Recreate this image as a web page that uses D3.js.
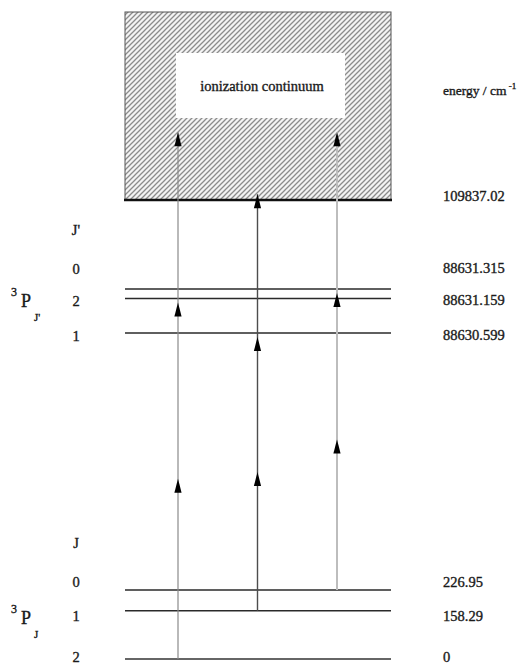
<!DOCTYPE html>
<html>
<head>
<meta charset="utf-8">
<script src="https://cdn.jsdelivr.net/npm/d3@7"></script>
<style>
  html, body { margin: 0; padding: 0; background: #fff; }
  svg { display: block; }
</style>
</head>
<body>
<svg id="chart" width="526" height="665"></svg>
<script>
// Ground-state fine-structure levels 3P_J (energy in cm^-1)
const lowerJ = ["2", "1", "0"];
const lowerEnergy = [0, 158.29, 226.95];
const lowerLabels = ["0", "158.29", "226.95"];

// Excited 3P_J' levels
const upperJ = ["1", "2", "0"];
const upperEnergy = [88630.599, 88631.159, 88631.315];
const upperLabels = ["88630.599", "88631.159", "88631.315"];

// Ionization limit
const ionLimit = 109837.02;
const ionLabel = "109837.02";

// Excitation paths: lower J index -> upper J' index -> energy reached in the continuum
const pathFrom = [0, 1, 2];
const pathVia = [1, 0, 2];
const pathReach = [113500, 110150, 113500];

const FONT = "'Liberation Serif', 'Times New Roman', 'DejaVu Serif', serif";
const svg = d3.select("#chart")
  .style("font-family", FONT);

// Broken energy axis: each region of the diagram has its own linear stretch
const continuumTop = 120000;
const y = d3.scaleLinear()
  .domain([0, 226.95, 88630.599, 88631.315, ionLimit, continuumTop])
  .range([659, 590, 333, 289, 200, 12]);

const x0 = 125, x1 = 391;           // extent of level lines and continuum box
const pathX = d3.scalePoint().domain(d3.range(pathFrom.length)).range([178, 337]);

function label(sel) {
  return sel.attr("font-family", FONT).attr("fill", "#1a1a1a")
    .attr("stroke", "#1a1a1a").attr("stroke-width", 0.35);
}

// Hatch pattern for the continuum
const defs = svg.append("defs");
const pat = defs.append("pattern")
  .attr("id", "hatch").attr("patternUnits", "userSpaceOnUse")
  .attr("width", 5).attr("height", 5);
pat.append("rect").attr("width", 5).attr("height", 5).attr("fill", "#f4f4f4");
pat.append("path")
  .attr("d", "M-1,1 l2,-2 M0,5 l5,-5 M4,6 l2,-2")
  .attr("stroke", "#8c8c8c").attr("stroke-width", 1.3);

// Continuum box
svg.append("rect")
  .attr("x", x0).attr("y", y(continuumTop))
  .attr("width", x1 - x0).attr("height", y(ionLimit) - y(continuumTop))
  .attr("fill", "url(#hatch)").attr("stroke", "#555").attr("stroke-width", 1);

svg.append("rect")
  .attr("x", 176).attr("y", 53).attr("width", 169).attr("height", 65)
  .attr("fill", "#fff");
svg.append("text").call(label)
  .attr("x", 262).attr("y", 91).attr("text-anchor", "middle")
  .attr("font-size", 14.5).text("ionization continuum");

// Ionization threshold line
svg.append("line")
  .attr("x1", x0 - 1).attr("x2", x1 + 1)
  .attr("y1", y(ionLimit)).attr("y2", y(ionLimit))
  .attr("stroke", "#111").attr("stroke-width", 2.5);

// Level lines
const allEnergy = lowerEnergy.concat(upperEnergy);
svg.append("g").selectAll("line").data(allEnergy).join("line")
  .attr("x1", x0).attr("x2", x1)
  .attr("y1", d => y(d)).attr("y2", d => y(d))
  .attr("stroke", (d, i) => i === 0 ? "#666" : "#2a2a2a")
  .attr("stroke-width", (d, i) => i === 0 ? 2 : 1.5);

// Excitation arrows
const pathColor = ["#8a8a8a", "#4d4d4d", "#bdbdbd"];
const pathWidth = [1.2, 1.4, 2];
const head = (cx, tipY) => `M${cx},${tipY} L${cx + 3.6},${tipY + 14} L${cx - 3.6},${tipY + 14} Z`;

const paths = svg.append("g").selectAll("g").data(pathFrom).join("g");
paths.append("line")
  .attr("x1", (d, i) => pathX(i)).attr("x2", (d, i) => pathX(i))
  .attr("y1", (d, i) => y(lowerEnergy[pathFrom[i]]))
  .attr("y2", (d, i) => y(pathReach[i]))
  .attr("stroke", (d, i) => pathColor[i])
  .attr("stroke-width", (d, i) => pathWidth[i]);

// two-photon step: arrowhead halfway, then at the intermediate level
paths.append("path")
  .attr("d", (d, i) => {
    const yl = y(lowerEnergy[pathFrom[i]]), yu = y(upperEnergy[pathVia[i]]);
    return head(pathX(i), (yl + yu) / 2);
  }).attr("fill", "#000");
paths.append("path")
  .attr("d", (d, i) => head(pathX(i), y(upperEnergy[pathVia[i]]) + 4))
  .attr("fill", "#000");
// ionizing photon
paths.append("path")
  .attr("d", (d, i) => head(pathX(i), y(pathReach[i])))
  .attr("fill", "#000");

// Energy labels on the right
const labelX = 443;
const fs = 14.5;
svg.append("text").call(label).attr("x", labelX).attr("y", 95).attr("font-size", 13.5)
  .text("energy / cm")
  .append("tspan").attr("dy", -6).attr("font-size", 9).text(" -1");
svg.append("text").call(label).attr("x", labelX).attr("y", y(ionLimit) + 1)
  .attr("font-size", fs).text(ionLabel);

const upperDy = [7, 6, -16];
const lowerDy = [3, 10, -3];
svg.append("g").selectAll("text").data(upperLabels).join("text").call(label)
  .attr("x", labelX).attr("y", (d, i) => y(upperEnergy[i]) + upperDy[i])
  .attr("font-size", fs).text(d => d);
svg.append("g").selectAll("text").data(lowerLabels).join("text").call(label)
  .attr("x", labelX).attr("y", (d, i) => y(lowerEnergy[i]) + lowerDy[i])
  .attr("font-size", fs).text(d => d);

// J quantum numbers on the left
const jx = 76;
svg.append("g").selectAll("text").data(upperJ).join("text").call(label)
  .attr("x", jx).attr("y", (d, i) => y(upperEnergy[i]) + upperDy[i] + 1)
  .attr("text-anchor", "middle").attr("font-size", fs).text(d => d);
svg.append("g").selectAll("text").data(lowerJ).join("text").call(label)
  .attr("x", jx).attr("y", (d, i) => y(lowerEnergy[i]) + lowerDy[i])
  .attr("text-anchor", "middle").attr("font-size", fs).text(d => d);

svg.append("text").call(label).attr("x", jx).attr("y", 235).attr("text-anchor", "middle")
  .attr("font-size", fs).text("J'");
svg.append("text").call(label).attr("x", jx).attr("y", 548).attr("text-anchor", "middle")
  .attr("font-size", fs).text("J");

// Term symbols 3P_J' and 3P_J
function term(yBase, sub) {
  const g = svg.append("g");
  g.append("text").call(label).attr("x", 11).attr("y", yBase - 11).attr("font-size", 12).text("3");
  g.append("text").call(label).attr("x", 21).attr("y", yBase).attr("font-size", 18).text("P");
  g.append("text").call(label).attr("x", 34).attr("y", yBase + 14).attr("font-size", 11).text(sub);
}
term(307, "J'");
term(624, "J");
</script>
</body>
</html>
